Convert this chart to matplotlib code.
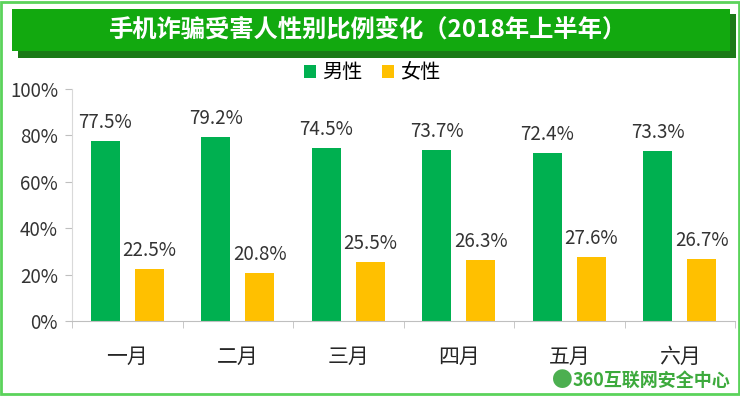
import matplotlib.pyplot as plt
from matplotlib.patches import Rectangle
import numpy as np

plt.rcParams['font.family'] = ['Noto Sans CJK SC', 'DejaVu Sans']

# 数据
months = ['一月', '二月', '三月', '四月', '五月', '六月']
male = [77.5, 79.2, 74.5, 73.7, 72.4, 73.3]
female = [22.5, 20.8, 25.5, 26.3, 27.6, 26.7]
title = '手机诈骗受害人性别比例变化（2018年上半年）'

fig = plt.figure(figsize=(7.4, 3.96), dpi=100)
W, H = 740, 396

# 外框
fig.patches.append(Rectangle((0.002, 0.004), 0.996, 0.992, transform=fig.transFigure,
                             fill=False, edgecolor='#5BD35B', linewidth=2))

# 标题横幅 + 阴影
fig.patches.append(Rectangle((18 / W, 1 - 58 / H), 718 / W, 44 / H, transform=fig.transFigure,
                             facecolor='#1B7A17', edgecolor='none'))
fig.patches.append(Rectangle((12 / W, 1 - 51 / H), 718 / W, 42 / H, transform=fig.transFigure,
                             facecolor='#12A90F', edgecolor='none'))
fig.text(368 / W, 1 - 30 / H, title, color='white', fontsize=17.5, fontweight='bold',
         ha='center', va='center')

ax = fig.add_axes([72 / W, 1 - 321 / H, 663 / W, 232 / H])
x = np.arange(len(months))
w = 0.26
b1 = ax.bar(x - 0.2, male, w, color='#00B050', label='男性')
b2 = ax.bar(x + 0.2, female, w, color='#FFC000', label='女性')

for bars, vals in ((b1, male), (b2, female)):
    for r, v in zip(bars, vals):
        ax.text(r.get_x() + r.get_width() / 2, v + 3.5, f'{v:.1f}%', ha='center', va='bottom',
                fontsize=13.5, color='#333333')

ax.set_xlim(-0.5, len(months) - 0.5)
ax.set_ylim(0, 100)
ax.set_yticks(range(0, 101, 20))
ax.set_yticklabels([f'{t}%' for t in range(0, 101, 20)], fontsize=13.5, color='#333333')
ax.set_xticks(x)
ax.set_xticklabels(months, fontsize=15, color='#262626')
ax.set_xticks(np.arange(-0.5, len(months), 1), minor=True)
ax.tick_params(axis='x', which='major', length=0, pad=18)
ax.tick_params(axis='x', which='minor', length=5, color='#BFBFBF', direction='out')
ax.tick_params(axis='y', length=5, color='#BFBFBF', pad=5)
for s in ('top', 'right'):
    ax.spines[s].set_visible(False)
ax.spines['left'].set_color('#D9D9D9')
ax.spines['bottom'].set_color('#BFBFBF')

fig.legend(handles=[b1, b2], loc='center', bbox_to_anchor=(372 / W, 1 - 73 / H), ncol=2,
           frameon=False, fontsize=14.5, handlelength=0.6, handleheight=0.6,
           handletextpad=0.3, columnspacing=1.0)

# 水印
fig.text(562 / W, 1 - 380 / H, '●', color='#4CAF50', fontsize=15, ha='center', va='center')
fig.text(573 / W, 1 - 380 / H, '360互联网安全中心', color='#3DAA3D', fontsize=13,
         fontweight='bold', ha='left', va='center')

plt.savefig('out.png', dpi=100)
